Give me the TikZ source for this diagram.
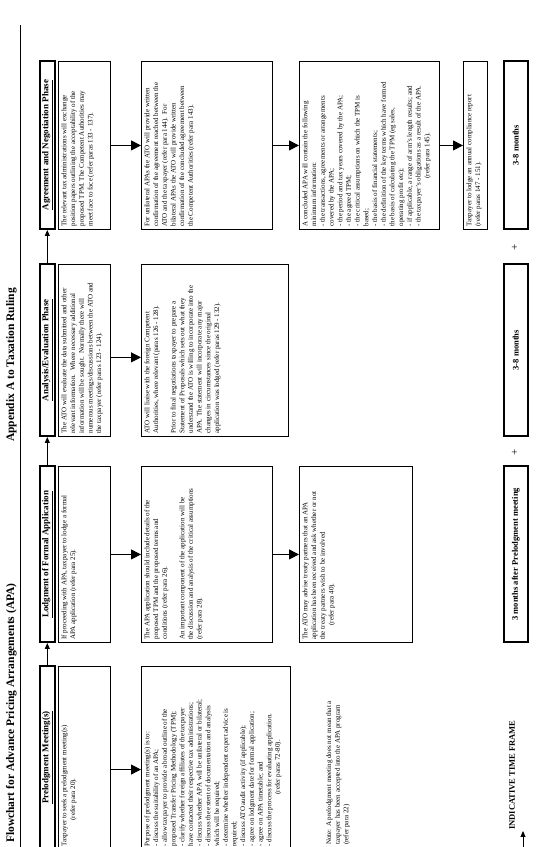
\documentclass[tikz,border=0pt]{standalone}
\usepackage{fontspec}
\setmainfont{Liberation Serif}
\usetikzlibrary{arrows.meta,calc}
\newcommand\bodyfont{\fontsize{7}{8.7}\selectfont}
\newcommand\bxnode[6]{%
  \node[bodybox, minimum width=#4pt, minimum height=#5pt] (#1) at (#2,#3)
  {\parbox[t][\dimexpr#5pt-6pt\relax][t]{\dimexpr#4pt-6pt\relax}{\bodyfont\raggedright #6}};}
\tikzset{
  bodybox/.style={draw, line width=1.1pt, inner sep=3pt, anchor=north west},
  hdrbox/.style={draw, line width=1.6pt, inner sep=0pt, anchor=north west, minimum height=15pt,
    font=\bfseries\fontsize{9}{10}\selectfont},
  timebox/.style={draw, line width=1.5pt, inner sep=0pt, anchor=north west, minimum height=24pt,
    font=\bfseries\fontsize{8.5}{10}\selectfont},
  bigarr/.style={line width=1pt, -{Triangle[length=10pt,width=10pt]}},
  smallarr/.style={line width=0.9pt, -{Triangle[length=6pt,width=5pt]}},
  plain/.style={inner sep=0pt},
}
\begin{document}
\begin{tikzpicture}[x=1pt,y=1pt]
\useasboundingbox (0,0) rectangle (560,847);
\begin{scope}[rotate=90, transform shape]
% title
\node[plain, anchor=base west, font=\bfseries\fontsize{11.5}{13}\selectfont] (title) at (4,-14)
  {Flowchart for Advance Pricing Arrangements (APA)};
\node[plain, anchor=base west, font=\bfseries\fontsize{11.5}{13}\selectfont] (appx) at (405,-14)
  {Appendix A to Taxation Ruling};
\coordinate (l0) at (0,-20);
\coordinate (l1) at (822,-20);
\draw[line width=0.8pt] (l0) -- (l1);
% headers
\node[hdrbox, minimum width=183pt] (h1) at (-3,-39) {\underline{Prelodgment Meeting(s)}};
\node[hdrbox, minimum width=176pt] (h2) at (204,-39) {\underline{Lodgment of Formal Application}};
\node[hdrbox, minimum width=172pt] (h3) at (410,-39) {\underline{Analysis/Evaluation Phase}};
\node[hdrbox, minimum width=168pt] (h4) at (617,-39) {\underline{Agreement and Negotiation Phase}};
\draw[smallarr] (h1.east) -- (h2.west);
\draw[smallarr] (h2.east) -- (h3.west);
\draw[smallarr] (h3.east) -- (h4.west);
% row 1
\bxnode{c1a}{-3}{-58}{183}{52}{Taxpayer to seek a prelodgment meeting(s)\\
\hspace*{26pt}(refer para 20).}
\bxnode{c2a}{204}{-58}{176}{52}{If proceeding with APA, taxpayer to lodge a formal\\
APA application (refer para 25).}
\bxnode{c3a}{410}{-58}{172}{52}{The ATO will evaluate the data submitted and other\\
relevant information.\ \ Where necessary additional\\
information will be sought.\ \ Normally there will\\
numerous meetings/discussions between the ATO and\\
the taxpayer (refer paras 123 - 124).}
\bxnode{c4a}{617}{-58}{168}{52}{The relevant tax administrations will exchange\\
position papers outlining the acceptability of the\\
proposed TPM. The Competent Authorities may\\
meet face to face (refer paras 133 - 137).}
% row 2
\bxnode{c1b}{-3}{-141}{183}{149}{Purpose of prelodgment meeting(s) is to:\\
- discuss the suitability of an APA;\\
- allow taxpayer to provide a broad outline of the\\
proposed Transfer Pricing Methodology (TPM);\\
- clarify whether foreign affiliates of the taxpayer\\
have contacted their respective tax administrations;\\
- discuss whether APA will be unilateral or bilateral;\\
- discuss the extent of documentation and analysis\\
which will be required;\\
- determine whether independent expert advice is\\
required;\\
- discuss ATO audit activity (if applicable);\\
- agree on lodgment date for formal application;\\
- agree on APA timetable; and\\
- discuss the process for evaluating application.\\
\hspace*{52pt}(refer paras 72-80).}
\bxnode{c2b}{204}{-141}{176}{131}{The APA application should include details of the\\
proposed TPM and the proposed terms and\\
conditions (refer para 26).\\[8.7pt]
An important component of the application will be\\
the discussion and analysis of the critical assumptions\\
(refer para 28).}
\bxnode{c3b}{410}{-141}{172}{147}{ATO will liaise with the foreign Competent\\
Authorities, where relevant (paras 126 - 128).\\[8.7pt]
Prior to final negotiations taxpayer to prepare a\\
Statement of Proposals which sets out what they\\
understand the ATO is willing to incorporate into the\\
APA. The statement will incorporate any major\\
changes in circumstances since the original\\
application was lodged (refer paras 129 - 132).}
\bxnode{c4b}{617}{-141}{168}{131}{For unilateral APAs the ATO will provide written\\
confirmation of the agreement reached between the\\
ATO and the taxpayer (refer para 144).\ \ For\\
bilateral APAs the ATO will provide written\\
confirmation of the concluded agreement between\\
the Competent Authorities (refer para 143).}
% row 3
\node[plain, anchor=north west, align=left, font=\bodyfont] (note) at (2,-326)
  {Note: A prelodgment meeting does not mean that a\\
taxpayer has been accepted into the APA program\\
(refer para 22)};
\bxnode{c2c}{204}{-299}{176}{113}{The ATO may advise treaty partners that an APA\\
application has been received and ask whether or not\\
the treaty partners wish to be involved\\
\hspace*{14pt}(refer para 40).}
\bxnode{c4c}{617}{-299}{168}{140}{A concluded APA will contain the following\\
minimum information:\\
- the transactions, agreements or arrangements\\
covered by the APA;\\
- the period and tax years covered by the APA;\\
- the agreed TPM;\\
- the critical assumptions on which the TPM is\\
based;\\
- the basis of financial statements;\\
- the definition of the key terms which have formed\\
the basis of calculating the TPM (eg sales,\\
operating profit etc);\\
- if applicable, a range of arm's length results; and\\
- the taxpayer's obligations as a result of the APA.\\
\hspace*{48pt}(refer para 145).}
\bxnode{c4d}{617}{-463}{168}{24}{Taxpayer to lodge an annual compliance report\\
(refer paras 147 - 151).}
% arrows between rows
\draw[bigarr] ($(c1a.south west)!0.437!(c1a.south east)$) -- ($(c1b.north west)!0.437!(c1b.north east)$);
\draw[bigarr] (c2a.south) -- (c2b.north);
\draw[bigarr] (c2b.south) -- (c2c.north);
\draw[bigarr] ($(c3a.south west)!0.46!(c3a.south east)$) -- ($(c3b.north west)!0.46!(c3b.north east)$);
\draw[bigarr] (c4a.south) -- (c4b.north);
\draw[bigarr] (c4b.south) -- (c4c.north);
\draw[bigarr] (c4c.south) -- (c4d.north);
% time frame
\node[plain, anchor=west, font=\bfseries\fontsize{8.5}{10}\selectfont] (tft) at (17,-512) {INDICATIVE TIME FRAME};
\coordinate (ta) at (0,-523);
\coordinate (tb) at (16,-523);
\draw[smallarr] (ta) -- (tb);
\node[timebox, minimum width=176pt] (t2) at (204,-503) {3 months after Prelodgment meeting};
\node[timebox, minimum width=172pt] (t3) at (410,-503) {3-8 months};
\node[timebox, minimum width=168pt] (t4) at (617,-503) {3-8 months};
\node[plain, font=\fontsize{11}{11}\selectfont] (p1) at (395,-515) {+};
\node[plain, font=\fontsize{11}{11}\selectfont] (p2) at (600,-515) {+};
\end{scope}
\end{tikzpicture}
\end{document}
